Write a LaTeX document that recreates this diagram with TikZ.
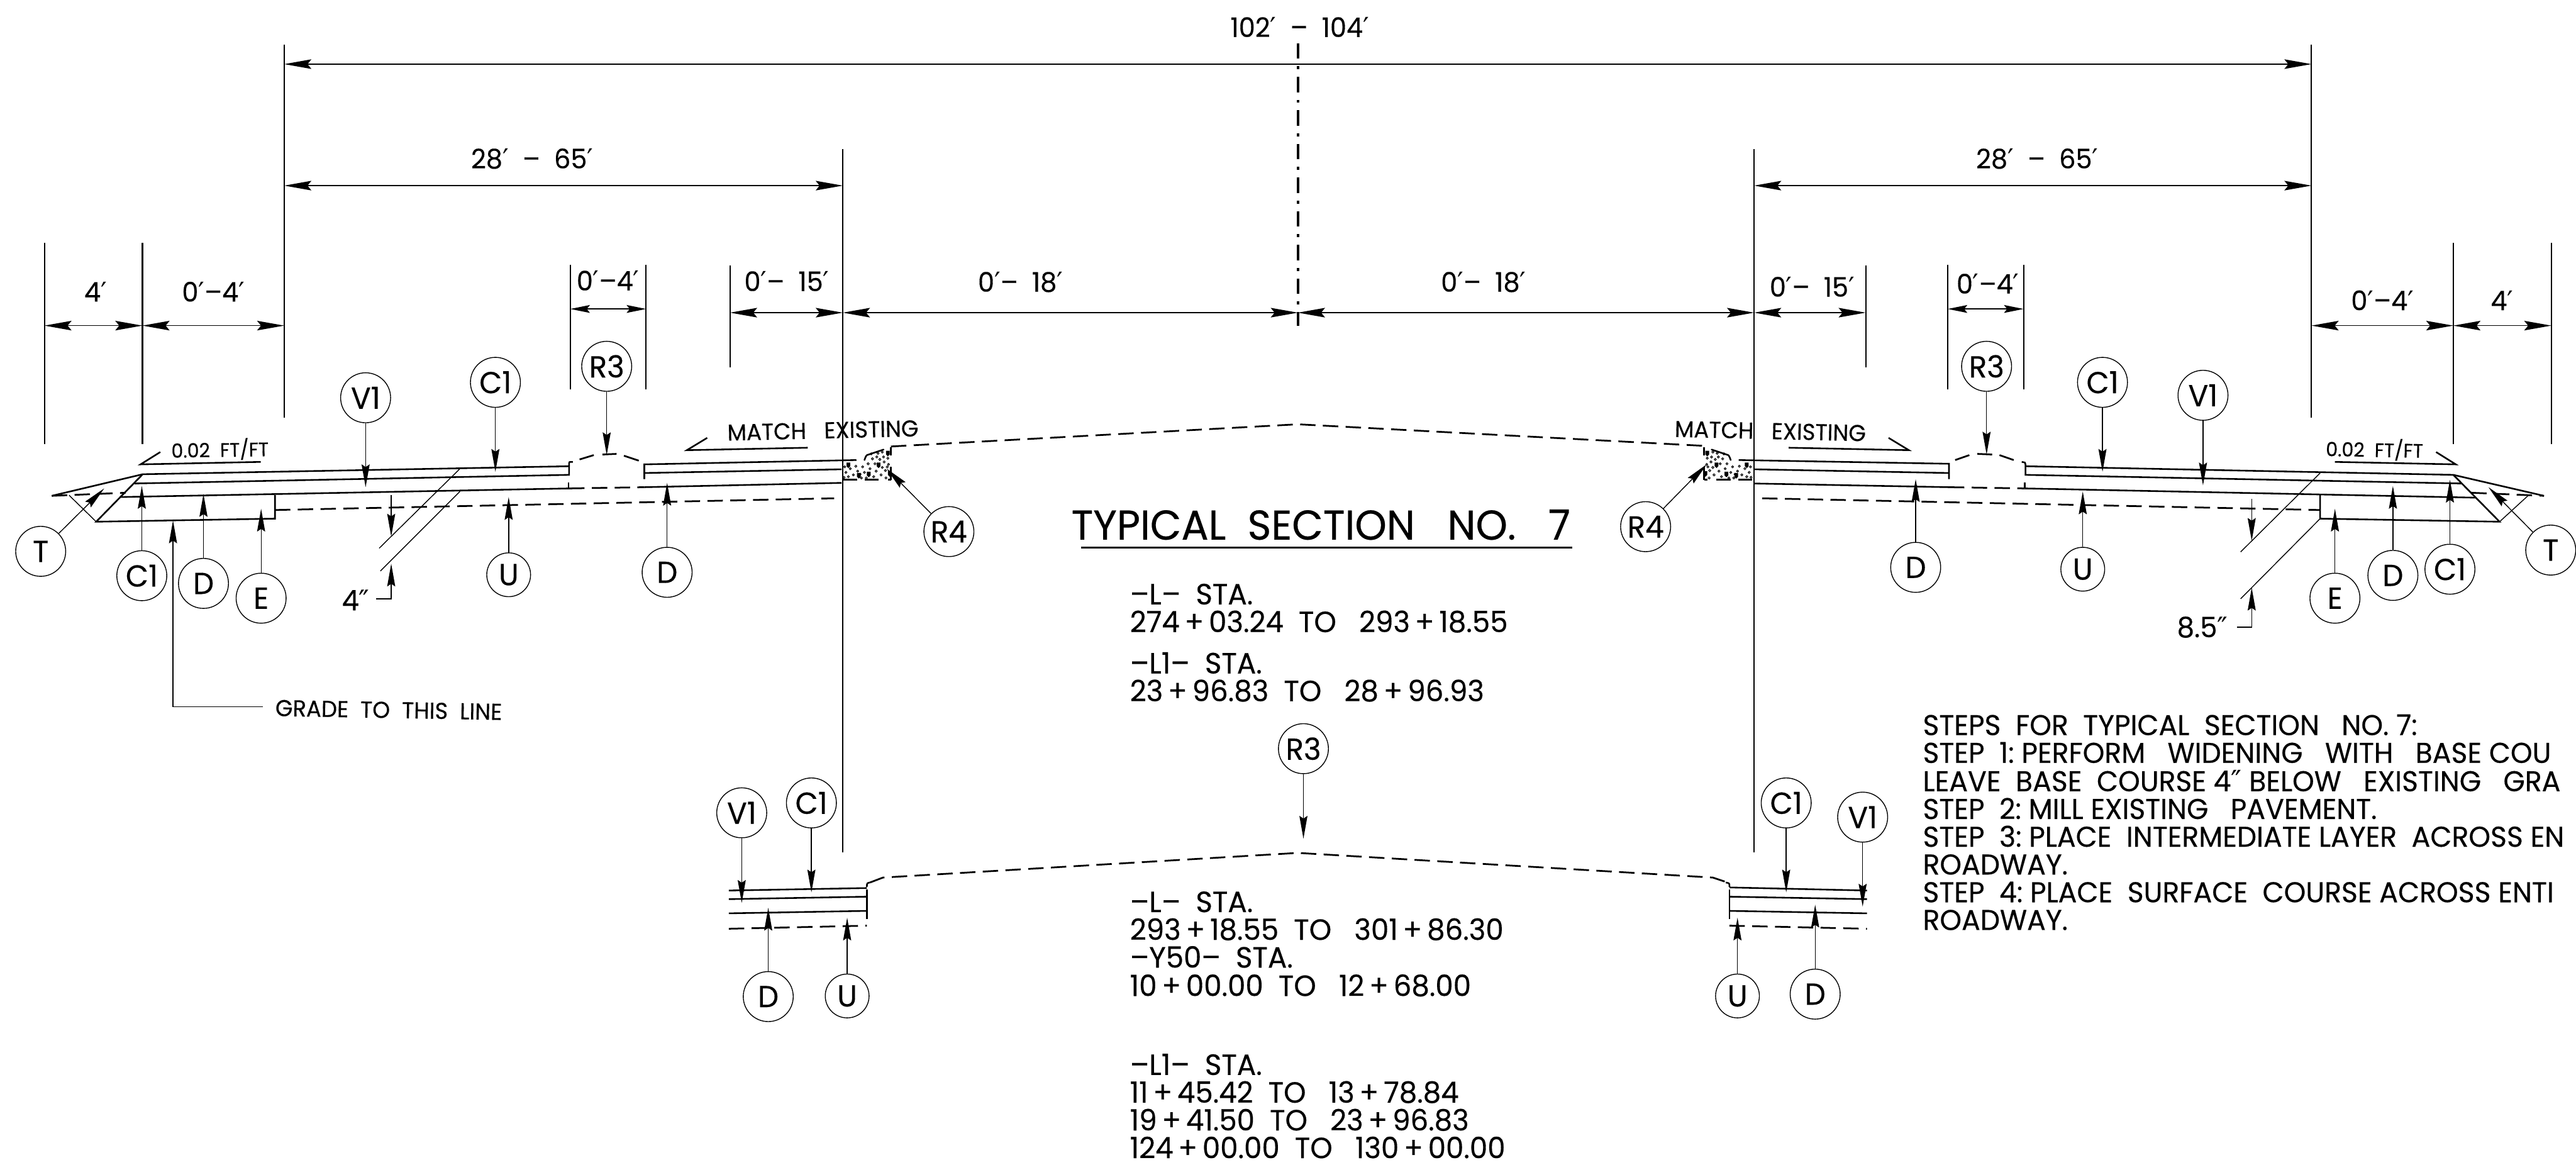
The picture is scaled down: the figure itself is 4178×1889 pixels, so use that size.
\documentclass[tikz,border=0pt]{standalone}
\usepackage{fontspec}
\setmainfont[FakeStretch=0.97,WordSpace=1.0,FakeBold=0.35]{Poppins}
\newfontfamily\prfont{DejaVu Sans}
\usetikzlibrary{arrows.meta}
\newcommand{\pr}{{\prfont ′}}
\newcommand{\prr}{{\prfont ″}}
\newcommand{\co}[5][0.81cm]{%
  \node[callbox,minimum size=#1] (#2) at (#3) {#4};
  \coordinate (#2t) at (#5);
  \draw[lead] (#2) -- (#2t);}
\newcommand{\dimarrow}[5][dimln]{%
  \coordinate (#2a) at (#3,#5);
  \coordinate (#2b) at (#4,#5);
  \draw[#1] (#2a) -- (#2b);}
\newcommand{\rubble}{%
  \foreach \px/\py in {1370/757,1372/766,1369/774,1379/760,1384/770,1388/756,1391/764,1397/775,1399/757,1402/766,1405/775,1408/752,1411/760,1415/744,1417/773,1419/752,1421/764,1424/735,1427/745,1429/770,1431/758,1434/749,1436/763,1437/775,1440/743,1441/753,1443/768,1431/733,1376/773,1395/769,1413/736,1422/741,1433/741,1439/757}
    {\draw[line width=0.3pt] (\px,\py) circle[radius=1.7];}
  \foreach \px/\py in {1376/754,1393/771,1409/769,1425/754,1440/735,1443/768}
    {\fill (\px-3,\py-4) -- (\px+3,\py-4) -- (\px+3,\py+2) -- (\px,\py+5) -- (\px-3,\py+2) -- cycle;}
  \draw[thickln,line cap=round] (1402,746) .. controls (1405,738) and (1405,738) .. (1409,737) -- (1433,729);
  \draw[thickln] (1367,778) -- (1390,778) (1402,778) -- (1425,778) (1440,778) -- (1445,778);
  \draw[thickln] (1445,725) -- (1445,738) (1445,757) -- (1445,778);
}
\tikzset{
  x=0.01cm,y=-0.01cm,
  extln/.style={line width=0.6pt},
  dimln/.style={line width=0.5pt,{Stealth[length=12.5pt,width=4.4pt,inset=1.8pt]}-{Stealth[length=12.5pt,width=4.4pt,inset=1.8pt]}},
  smalldim/.style={line width=0.5pt,{Stealth[length=9pt,width=3.6pt,inset=1.4pt]}-{Stealth[length=9pt,width=3.6pt,inset=1.4pt]}},
  lead/.style={line width=0.4pt,-{Stealth[length=10.5pt,width=3.7pt,inset=1.2pt]}},
  callbox/.style={circle,draw,line width=0.4pt,inner sep=0pt,font=\fontsize{14}{14}\selectfont},
  thickln/.style={line width=0.75pt},
  thinln/.style={line width=0.4pt},
  exist/.style={line width=0.8pt,dash pattern=on 7.1pt off 3.4pt},
  cline/.style={line width=1.1pt,dash pattern=on 7.1pt off 3.5pt on 1.4pt off 3.5pt},
  dimtext/.style={anchor=base,inner sep=0pt,font=\fontsize{12.4}{12.4}\selectfont},
  statxt/.style={anchor=base west,inner sep=0pt,font=\fontsize{13.5}{13.5}\selectfont},
  steptxt/.style={anchor=base west,inner sep=0pt,font=\fontsize{13.2}{13.2}\selectfont},
  slopetxt/.style={anchor=base,inner sep=0pt,font=\fontsize{9}{9}\selectfont},
  matchtxt/.style={anchor=base,inner sep=0pt,font=\fontsize{10.6}{10.6}\selectfont},
}
\begin{document}
\begin{tikzpicture}
\useasboundingbox (0,0) rectangle (4178,1889);
\fill[white] (0,0) rectangle (4178,1889);
\clip (0,0) rectangle (4178,1889);

% extension lines
\draw[extln] (72,394) -- (72,720) (231,394) -- (231,720) (461,72) -- (461,677);
\draw[extln] (3749,72) -- (3749,677) (3979,394) -- (3979,720) (4138,394) -- (4138,720);
\draw[extln] (1367,242) -- (1367,1382) (2845,242) -- (2845,1382);
\draw[extln] (1184,430) -- (1184,596) (3026,430) -- (3026,596);
\draw[extln] (925,429) -- (925,631) (1048,429) -- (1048,631);
\draw[extln] (3159,429) -- (3159,631) (3282,429) -- (3282,631);
\draw[cline] (2105,70) -- (2105,528);

% dimensions
\dimarrow{dtop}{461}{3749}{104}
\dimarrow{dla}{461}{1367}{301}
\dimarrow{dra}{2845}{3749}{301}
\dimarrow{dlb}{1367}{2105}{507}
\dimarrow{drb}{2105}{2845}{507}
\dimarrow{dlc}{1184}{1367}{507}
\dimarrow{drc}{2845}{3026}{507}
\dimarrow[smalldim]{dld}{925}{1048}{501}
\dimarrow[smalldim]{drd}{3159}{3282}{501}
\dimarrow{dle}{72}{231}{528}
\dimarrow{dlf}{231}{461}{528}
\dimarrow{dre}{3749}{3979}{528}
\dimarrow{drf}{3979}{4138}{528}

\node[dimtext] (t1) at (2108,60) {102\pr~ – ~104\pr};
\node[dimtext] (t2) at (863,273) {28\pr~ – ~65\pr};
\node[dimtext] (t3) at (3304,273) {28\pr~ – ~65\pr};
\node[dimtext] (t4) at (1655,473) {0\pr– ~18\pr};
\node[dimtext] (t5) at (2406,473) {0\pr– ~18\pr};
\node[dimtext] (t6) at (1276,472) {0\pr– ~15\pr};
\node[dimtext] (t7) at (2939,481) {0\pr– ~15\pr};
\node[dimtext] (t8) at (986,471) {0\pr–4\pr};
\node[dimtext] (t9) at (3224,476) {0\pr–4\pr};
\node[dimtext] (t10) at (155,489) {4\pr};
\node[dimtext] (t11) at (346,489) {0\pr–4\pr};
\node[dimtext] (t12) at (3864,503) {0\pr–4\pr};
\node[dimtext] (t13) at (4058,503) {4\pr};

% left section
\draw[thickln] (84,804) -- (231.5,769) -- (923,756) -- (923,770) -- (218,784);
\draw[thickln] (231.5,769) -- (156,846) -- (446,841) -- (446,803);
\draw[thickln] (194.5,806) -- (923,792);
\draw[thinln] (112,803) -- (156,846);
\draw[exist] (84,804) -- (204,799);
\draw[exist] (446,827) -- (1353,808);
\draw[thickln] (922,782) -- (922,792);
\draw[exist] (923,792) -- (1045,790);
\draw[thickln] (1045,790) -- (1365,783);
\draw[thickln] (923,756) -- (923,751) .. controls (923,749) .. (929,749);
\draw[exist,dash pattern=on 100pt] (940,745) -- (963,738) (977,737) -- (1000,736) (1012,739) -- (1036,747);
\draw[thickln] (1389,746) -- (1045,753) -- (1045,777);
\draw[thickln] (1045,767) -- (1365,761);
\draw[thinln] (746,760) -- (615,889) (746,797) -- (617,926);
\draw[lead] (634.5,803) -- (634.5,870);
\coordinate (fourt) at (634.5,914);
\node[anchor=center,inner sep=0pt,font=\fontsize{13}{13}\selectfont] (four) at (577,973) {4\prr};
\draw[lead] (610,971) -| (fourt);

% right section
\draw[thickln] (2820,746) -- (3161,752) -- (3161,777);
\draw[thickln] (2845,761) -- (3161,767);
\draw[thickln] (2845,784) -- (3161,790);
\draw[exist] (3161,790) -- (3284,792);
\draw[thickln] (3284,782) -- (3284,792);
\draw[exist,dash pattern=on 100pt] (3171,746) -- (3194,738) (3207,736) -- (3231,737) (3243,738) -- (3266,746);
\draw[thickln] (3279,749) .. controls (3285,750) .. (3285,753) -- (3285,770) -- (3993,784);
\draw[thickln] (3285,756) -- (3979,770) -- (4126,804);
\draw[thickln] (3284,792) -- (4016,807);
\draw[thickln] (3979,770) -- (4054,846) -- (3763,841) -- (3763,803);
\draw[thinln] (4101,803) -- (4054,846);
\draw[exist] (4008,799) -- (4126,804);
\draw[exist] (2858,808) -- (3763,827);
\draw[thinln] (3763,767) -- (3634,895) (3763,841) -- (3634,971);
\draw[lead] (3652,809) -- (3652,877);
\coordinate (eightt) at (3652,953);
\node[anchor=center,inner sep=0pt,font=\fontsize{13}{13}\selectfont] (eight) at (3572,1017) {8.5\prr};
\draw[lead] (3628,1017) -| (eightt);

% crown and rubble
\draw[exist] (1445,724) -- (2105,688) -- (2764,723);
\rubble
\begin{scope}[shift={(4209,0)},xscale=-1]
\rubble
\end{scope}

% slope marks
\draw[thickln] (423,749) -- (228,753) -- (260,733);
\node[slopetxt,rotate=1] (s1) at (357,741) {0.02~ FT/FT};
\draw[thickln] (3787,749) -- (3983,753) -- (3951,733);
\node[slopetxt,rotate=-1] (s2) at (3851,741) {0.02~ FT/FT};
\draw[thickln] (1310,726) -- (1114,730) -- (1147,710);
\node[matchtxt,rotate=1.3] (m1) at (1335,711) {MATCH~~ EXISTING};
\draw[thickln] (2901,726) -- (3096,730) -- (3063,710);
\node[matchtxt,rotate=-1.3] (m2) at (2871,712) {MATCH~~ EXISTING};

% callouts, top section
\co{a1}{593,645}{V1}{593,790}
\co{a2}{803.5,620}{C1}{803.5,765}
\co{a3}{984,594}{R3}{984,738}
\co{a4}{66,894}{T}{169,792}
\co{a5}{230,933.5}{C1}{230,788}
\co{a6}{330,946}{D}{330,801}
\co{a7}{423.5,970}{E}{423.5,825}
\co[0.71cm]{a8}{825,932}{U}{825,806}
\co{a9}{1082,928}{D}{1082,783}
\co{a10}{1539,862}{R4}{1438,760}
\co{b1}{3573,641}{V1}{3573,787}
\co{b2}{3410,620}{C1}{3410,765}
\co{b3}{3222,594}{R3}{3222,737}
\co{b4}{4137,892}{T}{4036,790}
\co{b5}{3973.5,923}{C1}{3973.5,778}
\co{b6}{3881,933}{D}{3881,788}
\co{b7}{3787,970}{E}{3787,825}
\co[0.71cm]{b8}{3378,923}{U}{3378,797}
\co{b9}{3107,920}{D}{3107,777}
\co{b10}{2669,854}{R4}{2768,753}

% grade note
\coordinate (gt) at (280.6,844);
\node[anchor=west,inner sep=0pt,rotate=-1,font=\fontsize{10.6}{10.6}\selectfont] (grade) at (446,1148) {GRADE~ TO~ THIS~ LINE};
\draw[lead] (426,1146) -| (gt);

% title and stations
\node[anchor=base west,inner sep=0pt,font=\fontsize{19.2}{19.2}\selectfont] (title) at (1737,875) {TYPICAL~ SECTION~~ NO.~~ 7};
\coordinate (ula) at (1753,888);
\coordinate (ulb) at (2550,888);
\draw[line width=0.8pt] (ula) -- (ulb);
\node[statxt] (l1) at (1832,980) {–L–~ STA.};
\node[statxt] (l2) at (1832,1025) {274\,+\,03.24~ TO~~ 293\,+\,18.55};
\node[statxt] (l3) at (1832,1092) {–L1–~ STA.};
\node[statxt] (l4) at (1832,1137) {23\,+\,96.83~ TO~~ 28\,+\,96.93};
\node[statxt] (l5) at (1832,1479) {–L–~ STA.};
\node[statxt] (l6) at (1832,1524) {293\,+\,18.55~ TO~~ 301\,+\,86.30};
\node[statxt] (l7) at (1832,1569) {–Y50–~ STA.};
\node[statxt] (l8) at (1832,1615) {10\,+\,00.00~ TO~~ 12\,+\,68.00};
\node[statxt] (l9) at (1832,1743) {–L1–~ STA.};
\node[statxt] (l10) at (1832,1788) {11\,+\,45.42~ TO~~ 13\,+\,78.84};
\node[statxt] (l11) at (1832,1833) {19\,+\,41.50~ TO~~ 23\,+\,96.83};
\node[statxt] (l12) at (1832,1878) {124\,+\,00.00~ TO~~ 130\,+\,00.00};

% lower section left
\draw[thickln] (1182,1444) -- (1406,1440);
\draw[thickln] (1182,1458) -- (1406,1454);
\draw[thickln] (1182,1481) -- (1406,1477);
\draw[exist] (1182,1506) -- (1406,1501);
\draw[thickln] (1406,1442) -- (1406,1490);
\draw[thickln] (1406,1438) .. controls (1406,1432) .. (1411,1431);
\draw[exist] (1411,1431) -- (1432,1423) -- (2105,1383) -- (2778,1423) -- (2802,1431);
\draw[thickln] (2799,1431) .. controls (2805,1432) .. (2805,1438);
% lower section right
\draw[thickln] (2805,1439) -- (3028,1444);
\draw[thickln] (2805,1454) -- (3028,1458);
\draw[thickln] (2805,1477) -- (3028,1481);
\draw[exist] (2805,1501) -- (3028,1506);
\draw[thickln] (2805,1442) -- (2805,1490);

\co{c1}{1203,1318}{V1}{1203,1464}
\co{c2}{1316,1302}{C1}{1316,1447}
\co{c3}{1246,1616}{D}{1246,1472}
\co[0.71cm]{c4}{1374,1615}{U}{1374,1488}
\co{c5}{2114,1214}{R3}{2114,1360}
\co{c6}{2897,1302}{C1}{2897,1447}
\co{c7}{3021,1325}{V1}{3021,1470}
\co[0.71cm]{c8}{2818,1615}{U}{2818,1488}
\co{c9}{2944,1612}{D}{2944,1467}

% steps
\node[steptxt] (n1) at (3118,1192) {STEPS~ FOR~ TYPICAL~ SECTION~~ NO.~7:};
\node[steptxt] (n2) at (3118,1237) {STEP~ 1:~PERFORM~~ WIDENING~~ WITH~~ BASE~COU};
\node[steptxt] (n3) at (3118,1283) {LEAVE~ BASE~ COURSE~4\prr~BELOW~~ EXISTING~~ GRA};
\node[steptxt] (n4) at (3118,1328) {STEP~ 2:~MILL~EXISTING~~ PAVEMENT.};
\node[steptxt] (n5) at (3118,1373) {STEP~ 3:~PLACE~ INTERMEDIATE~LAYER~ ACROSS~EN};
\node[steptxt] (n6) at (3118,1418) {ROADWAY.};
\node[steptxt] (n7) at (3118,1463) {STEP~ 4:~PLACE~ SURFACE~ COURSE~ACROSS~ENTI};
\node[steptxt] (n8) at (3118,1508) {ROADWAY.};
\end{tikzpicture}
\end{document}
